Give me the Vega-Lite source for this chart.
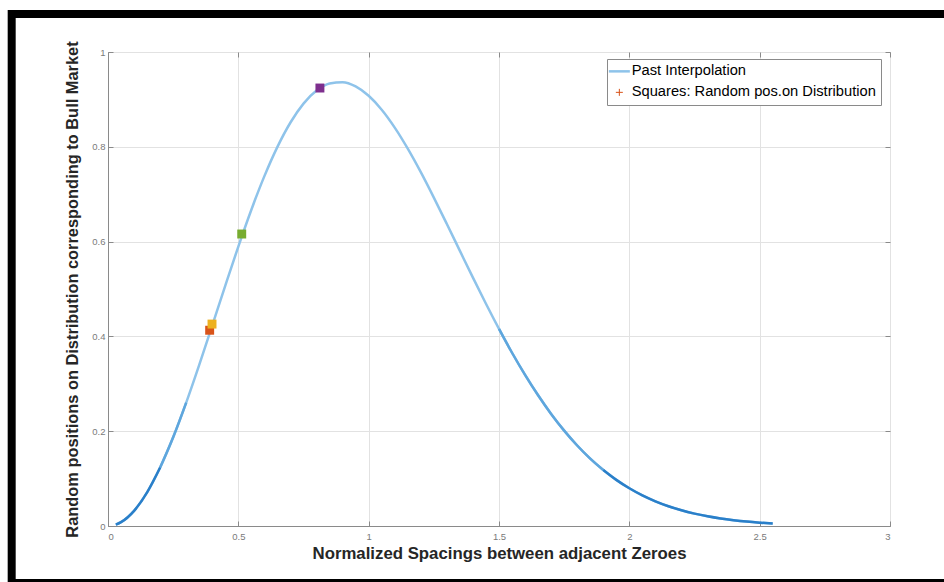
{
  "$schema": "https://vega.github.io/schema/vega-lite/v6.json",
  "width": 782,
  "height": 474,
  "autosize": {"type": "none"},
  "padding": {"left": 108, "top": 52, "right": 54, "bottom": 56},
  "background": "white",
  "config": {
    "font": "Liberation Sans",
    "view": {"stroke": "#8a8a8a", "strokeWidth": 1}
  },
  "datasets": {
    "curve": [
      {"x": 0.03, "y": 0.0029}, {"x": 0.05, "y": 0.0081}, {"x": 0.1, "y": 0.0320}, {"x": 0.15, "y": 0.0709},
      {"x": 0.2, "y": 0.1233}, {"x": 0.25, "y": 0.1871}, {"x": 0.3, "y": 0.2602}, {"x": 0.35, "y": 0.3398},
      {"x": 0.4, "y": 0.4232}, {"x": 0.45, "y": 0.5073}, {"x": 0.5, "y": 0.5896}, {"x": 0.55, "y": 0.6673},
      {"x": 0.6, "y": 0.7381}, {"x": 0.65, "y": 0.7999}, {"x": 0.7, "y": 0.8513}, {"x": 0.75, "y": 0.8911},
      {"x": 0.8, "y": 0.9186}, {"x": 0.85, "y": 0.9336}, {"x": 0.9, "y": 0.9364}, {"x": 0.95, "y": 0.9274},
      {"x": 1.0, "y": 0.9076}, {"x": 1.05, "y": 0.8782}, {"x": 1.1, "y": 0.8405}, {"x": 1.15, "y": 0.7961},
      {"x": 1.2, "y": 0.7465}, {"x": 1.25, "y": 0.6929}, {"x": 1.3, "y": 0.6372}, {"x": 1.35, "y": 0.5805},
      {"x": 1.4, "y": 0.5240}, {"x": 1.45, "y": 0.4688}, {"x": 1.5, "y": 0.4158}, {"x": 1.55, "y": 0.3655},
      {"x": 1.6, "y": 0.3188}, {"x": 1.65, "y": 0.2757}, {"x": 1.7, "y": 0.2364}, {"x": 1.75, "y": 0.2012},
      {"x": 1.8, "y": 0.1698}, {"x": 1.85, "y": 0.1421}, {"x": 1.9, "y": 0.1181}, {"x": 1.95, "y": 0.0973},
      {"x": 2.0, "y": 0.0796}, {"x": 2.05, "y": 0.0646}, {"x": 2.1, "y": 0.0521}, {"x": 2.15, "y": 0.0417},
      {"x": 2.2, "y": 0.0331}, {"x": 2.25, "y": 0.0261}, {"x": 2.3, "y": 0.0204}, {"x": 2.35, "y": 0.0158},
      {"x": 2.4, "y": 0.0122}, {"x": 2.45, "y": 0.0093}, {"x": 2.5, "y": 0.0071}, {"x": 2.55, "y": 0.0054}
    ],
    "squares": [
      {"id": "a", "x": 0.39, "y": 0.413},
      {"id": "b", "x": 0.399, "y": 0.426},
      {"id": "c", "x": 0.513, "y": 0.616},
      {"id": "d", "x": 0.813, "y": 0.924}
    ],
    "frame": [{}]
  },
  "resolve": {"axis": {"x": "independent", "y": "independent"}},
  "layer": [
    {
      "data": {"name": "frame"},
      "mark": {"type": "rect", "fill": "transparent", "stroke": "black", "strokeWidth": 8, "clip": false},
      "encoding": {
        "x": {"datum": -0.3695, "type": "quantitative", "scale": {"domain": [0, 3], "nice": false}, "axis": null},
        "x2": {"datum": 3.3},
        "y": {"datum": 1.0802, "type": "quantitative", "scale": {"domain": [0, 1], "nice": false}, "axis": null},
        "y2": {"datum": -0.1203}
      }
    },
    {
      "data": {"name": "curve"},
      "mark": {"type": "line", "strokeWidth": 2.5, "interpolate": "monotone"},
      "encoding": {
        "x": {"field": "x", "type": "quantitative", "scale": {"domain": [0, 3], "nice": false},
          "axis": {"orient": "bottom", "values": [0, 0.5, 1, 1.5, 2, 2.5, 3], "format": "~g",
            "grid": true, "gridColor": "#e2e2e2", "gridOpacity": 1,
            "domainColor": "#8a8a8a", "tickColor": "#8a8a8a", "tickSize": -5,
            "labelColor": "#7a7a7a", "labelFontSize": 9.5, "labelPadding": 10,
            "title": "Normalized Spacings between adjacent Zeroes", "titleFontSize": 16.8, "titleFontWeight": "bold",
            "titleColor": "#262626", "titlePadding": 5}},
        "y": {"field": "y", "type": "quantitative", "scale": {"domain": [0, 1], "nice": false},
          "axis": {"orient": "left", "values": [0, 0.2, 0.4, 0.6, 0.8, 1], "format": "~g",
            "grid": true, "gridColor": "#e2e2e2", "gridOpacity": 1,
            "domainColor": "#8a8a8a", "tickColor": "#8a8a8a", "tickSize": -5,
            "labelColor": "#7a7a7a", "labelFontSize": 9.5, "labelPadding": 8,
            "title": "Random positions on Distribution corresponding to Bull Market", "titleFontSize": 16.4, "titleFontWeight": "bold",
            "titleColor": "#262626", "titlePadding": 11}},
        "color": {"datum": "Past Interpolation", "type": "nominal",
          "scale": {"domain": ["Past Interpolation", "Squares: Random pos.on Distribution"], "range": ["#8ec3ea", "#D95319"]},
          "legend": {
            "orient": "none", "legendX": 499, "legendY": 7, "title": null,
            "labelFont": "Liberation Sans", "labelFontSize": 14.7, "labelColor": "#000000", "labelLimit": 400,
            "padding": 5, "strokeColor": "#8a8a8a", "fillColor": "white", "rowPadding": 5, "labelOffset": 5,
            "symbolSize": 441,
            "encode": {
              "symbols": {
                "update": {
                  "shape": {"signal": "datum.value === 'Past Interpolation' ? 'stroke' : 'M-1,0H1M0,-1V1'"},
                  "size": {"signal": "datum.value === 'Past Interpolation' ? 441 : 49"},
                  "stroke": {"signal": "datum.value === 'Past Interpolation' ? '#0072BD' : '#D95319'"},
                  "strokeWidth": {"signal": "datum.value === 'Past Interpolation' ? 2.5 : 1"},
                  "fill": {"value": "transparent"},
                  "opacity": {"value": 1}
                }
              }
            }
          }}
      }
    },
    {
      "data": {"name": "curve"},
      "transform": [{"filter": "datum.x >= 0.2 && datum.x <= 0.3"}],
      "mark": {"type": "line", "strokeWidth": 2.5, "interpolate": "monotone", "stroke": "#5ea6dd"},
      "encoding": {
        "x": {"field": "x", "type": "quantitative", "scale": {"domain": [0, 3], "nice": false}, "axis": null},
        "y": {"field": "y", "type": "quantitative", "scale": {"domain": [0, 1], "nice": false}, "axis": null}
      }
    },
    {
      "data": {"name": "curve"},
      "transform": [{"filter": "datum.x >= 1.5 && datum.x <= 1.9"}],
      "mark": {"type": "line", "strokeWidth": 2.5, "interpolate": "monotone", "stroke": "#5ea6dd"},
      "encoding": {
        "x": {"field": "x", "type": "quantitative", "scale": {"domain": [0, 3], "nice": false}, "axis": null},
        "y": {"field": "y", "type": "quantitative", "scale": {"domain": [0, 1], "nice": false}, "axis": null}
      }
    },
    {
      "data": {"name": "curve"},
      "transform": [{"filter": "datum.x <= 0.2"}],
      "mark": {"type": "line", "strokeWidth": 2.5, "interpolate": "monotone", "stroke": "#2a7fc9"},
      "encoding": {
        "x": {"field": "x", "type": "quantitative", "scale": {"domain": [0, 3], "nice": false}, "axis": null},
        "y": {"field": "y", "type": "quantitative", "scale": {"domain": [0, 1], "nice": false}, "axis": null}
      }
    },
    {
      "data": {"name": "curve"},
      "transform": [{"filter": "datum.x >= 1.9"}],
      "mark": {"type": "line", "strokeWidth": 2.5, "interpolate": "monotone", "stroke": "#2a7fc9"},
      "encoding": {
        "x": {"field": "x", "type": "quantitative", "scale": {"domain": [0, 3], "nice": false}, "axis": null},
        "y": {"field": "y", "type": "quantitative", "scale": {"domain": [0, 1], "nice": false}, "axis": null}
      }
    },
    {
      "data": {"name": "squares"},
      "mark": {"type": "point", "shape": "square", "filled": true, "size": 80, "opacity": 1},
      "encoding": {
        "x": {"field": "x", "type": "quantitative", "scale": {"domain": [0, 3], "nice": false},
          "axis": {"orient": "top", "values": [0, 0.5, 1, 1.5, 2, 2.5, 3], "labels": false, "title": null, "grid": false,
            "domain": false, "tickColor": "#8a8a8a", "tickSize": -5}},
        "y": {"field": "y", "type": "quantitative", "scale": {"domain": [0, 1], "nice": false},
          "axis": {"orient": "right", "values": [0, 0.2, 0.4, 0.6, 0.8, 1], "labels": false, "title": null, "grid": false,
            "domain": false, "tickColor": "#8a8a8a", "tickSize": -5}},
        "color": {"datum": "Squares: Random pos.on Distribution", "type": "nominal"},
        "fill": {"field": "id", "type": "nominal",
          "scale": {"domain": ["a", "b", "c", "d"], "range": ["#D95319", "#EDB120", "#77AC30", "#7E2F8E"]}, "legend": null}
      }
    }
  ]
}
